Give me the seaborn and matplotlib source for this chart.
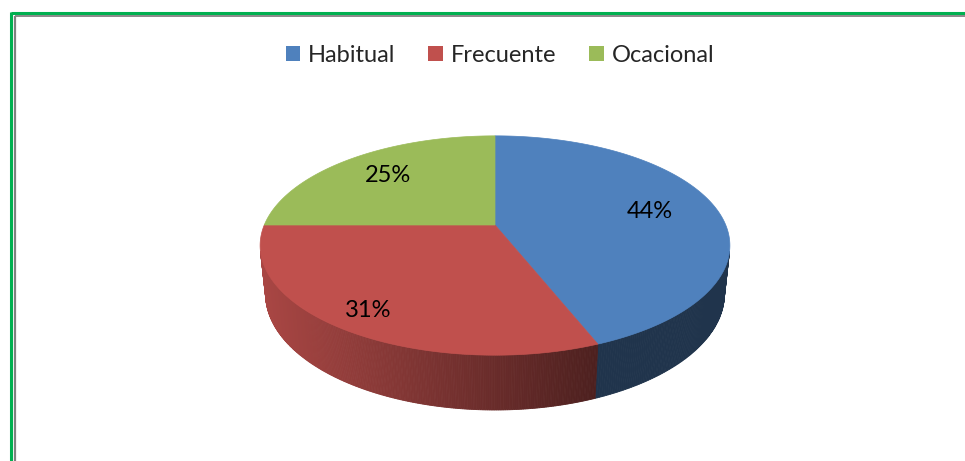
import numpy as np
import matplotlib
matplotlib.use("Agg")
import matplotlib.pyplot as plt
import seaborn as sns
from matplotlib.patches import Polygon, Patch

# data
categories = ["Habitual", "Frecuente", "Ocacional"]
values = [44, 31, 25]
pct_labels = ["44%", "31%", "25%"]
label_radius = [0.70, 0.85, 0.72]

sns.set_theme(style="white")
plt.rcParams["font.family"] = ["Lato", "DejaVu Sans"]
colors = sns.color_palette(["#4F81BD", "#C0504D", "#9BBB59"])
# wall brightness (left end, right end) for each slice
wall_shade = [(0.40, 0.40), (0.88, 0.40), (0.70, 0.40)]

# 3d projection of the pie (camera tilt + perspective), pixel space
cx, cy = 495, 225
f, D, tilt, H = 1096, 4.75, np.radians(27.3), 0.238
s, c = np.sin(tilt), np.cos(tilt)


def proj(u, v, h):
    Z = D + v * c - h * s
    return cx + f * u / Z, cy + f * (-v * s - h * c) / Z


fig = plt.figure(figsize=(9.65, 4.61), dpi=100)
ax = fig.add_axes([0, 0, 1, 1])
ax.set_xlim(0, 965)
ax.set_ylim(461, 0)
ax.axis("off")

fracs = np.array(values) / np.sum(values)
starts = 90 - 360 * np.concatenate([[0], np.cumsum(fracs)[:-1]])
ends = starts - 360 * fracs
vis_limit = -1 / (D * c)

# side walls first
for i in range(len(values)):
    t = np.radians(np.linspace(starts[i], ends[i], 300))
    vis = np.sin(t) < vis_limit
    if not vis.any():
        continue
    tv = t[vis]
    xt, yt = proj(np.cos(tv), np.sin(tv), 0)
    xb, yb = proj(np.cos(tv), np.sin(tv), -H)
    x0, x1 = xt.min(), xt.max()
    base = np.array(colors[i])
    for k in range(len(tv) - 1):
        xm = (xt[k] + xt[k + 1]) / 2
        fr = (xm - x0) / (x1 - x0) if x1 > x0 else 0
        sh = wall_shade[i][0] + (wall_shade[i][1] - wall_shade[i][0]) * fr
        col = np.clip(base * sh, 0, 1)
        quad = [(xt[k], yt[k]), (xt[k + 1], yt[k + 1]),
                (xb[k + 1], yb[k + 1]), (xb[k], yb[k])]
        ax.add_patch(Polygon(quad, closed=True, facecolor=col,
                             edgecolor=col, linewidth=0.6))

# top faces
apex = proj(0, 0, 0)
for i in range(len(values)):
    t = np.radians(np.linspace(starts[i], ends[i], 300))
    xs, ys = proj(np.cos(t), np.sin(t), 0)
    pts = [apex] + list(zip(xs, ys))
    ax.add_patch(Polygon(pts, closed=True, facecolor=colors[i],
                         edgecolor=colors[i], linewidth=0.5))
    mid = np.radians((starts[i] + ends[i]) / 2)
    lx, ly = proj(label_radius[i] * np.cos(mid), label_radius[i] * np.sin(mid), 0)
    ax.text(lx, ly, pct_labels[i], ha="center", va="center",
            fontsize=17, color="black")

# legend
handles = [Patch(facecolor=colors[i], edgecolor="none") for i in range(len(categories))]
fig.legend(handles, categories, loc="center", bbox_to_anchor=(500 / 965, 1 - 55 / 461),
           ncol=3, frameon=False, fontsize=17, handlelength=0.6, handleheight=0.6,
           handletextpad=0.35, columnspacing=1.4)

# chart frame (cropped on right and bottom)
ax.plot([11, 965], [13, 13], color="#00B050", lw=2.2, solid_capstyle="butt")
ax.plot([11, 11], [12, 461], color="#00B050", lw=2.2, solid_capstyle="butt")
ax.plot([14.5, 965], [15.8, 15.8], color="#808080", lw=1.3, solid_capstyle="butt")
ax.plot([14.5, 14.5], [15.8, 461], color="#808080", lw=1.6, solid_capstyle="butt")

fig.savefig("out.png", dpi=100)
